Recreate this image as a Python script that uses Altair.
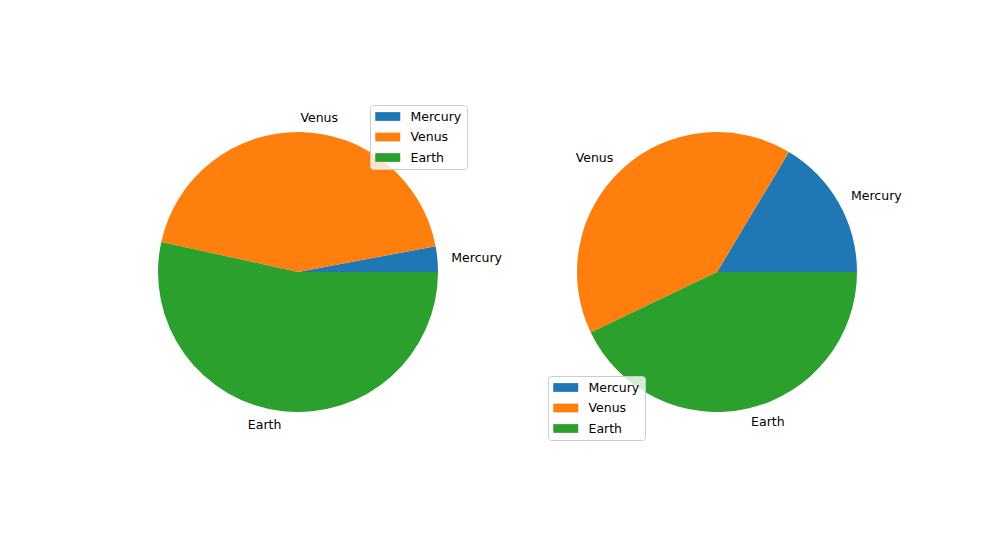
import math
import altair as alt
import pandas as pd

planets = ["Mercury", "Venus", "Earth"]
mass = [0.330, 4.87, 5.97]
radius = [2439.7, 6051.8, 6378.1]
colors = ["#1f77b4", "#ff7f0e", "#2ca02c"]

FONT = "DejaVu Sans"
FS = 12.5
W = 380
R = 140
D = (W / 2) / R


def pie(values, legend_x, legend_y):
    df = pd.DataFrame({"planet": planets, "value": values})
    base = alt.Chart(df)
    arcs = base.mark_arc(radius=R, stroke=None).transform_window(
        idx="row_number()"
    ).encode(
        theta=alt.Theta("value:Q", stack=True,
                        scale=alt.Scale(range=[math.pi / 2, math.pi / 2 - 2 * math.pi])),
        order=alt.Order("idx:Q"),
        color=alt.Color(
            "planet:N",
            scale=alt.Scale(domain=planets, range=colors),
            legend=alt.Legend(
                title=None, orient="none", legendX=legend_x, legendY=legend_y,
                symbolType="M-1,-0.7h4v1.4h-4Z", symbolSize=156.25,
                symbolStrokeWidth=0, labelFont=FONT, labelFontSize=FS,
                labelColor="black", labelOffset=22.5, rowPadding=7.5,
                padding=5, strokeColor="#cccccc", fillColor="rgba(255,255,255,0.8)",
                cornerRadius=3,
            ),
        ),
    )
    lab = base.transform_joinaggregate(total="sum(value)").transform_window(
        cum="sum(value)", frame=[None, 0]
    ).transform_calculate(
        mid="2*PI*(datum.cum - datum.value/2)/datum.total"
    ).transform_calculate(
        lx="1.1*cos(datum.mid)", ly="1.1*sin(datum.mid)"
    )
    xs = alt.X("lx:Q", scale=alt.Scale(domain=[-D, D], nice=False, zero=False), axis=None)
    ys = alt.Y("ly:Q", scale=alt.Scale(domain=[-D, D], nice=False, zero=False), axis=None)
    right = lab.transform_filter("datum.lx >= 0").mark_text(
        align="left", baseline="middle", font=FONT, fontSize=FS, color="black"
    ).encode(x=xs, y=ys, text="planet:N")
    left = lab.transform_filter("datum.lx < 0").mark_text(
        align="right", baseline="middle", font=FONT, fontSize=FS, color="black"
    ).encode(x=xs, y=ys, text="planet:N")
    return alt.layer(arcs, right, left).properties(width=W, height=W)


chart = alt.hconcat(
    pie(mass, 262, 23),
    pie(radius, 21, 294),
    spacing=39,
    bounds="flush",
).resolve_scale(color="independent").configure_view(stroke=None).properties(
    padding={"left": 100, "top": 74, "right": 0, "bottom": 0}
)

chart.save("out.html", embed_options={"renderer": "svg", "actions": False})
